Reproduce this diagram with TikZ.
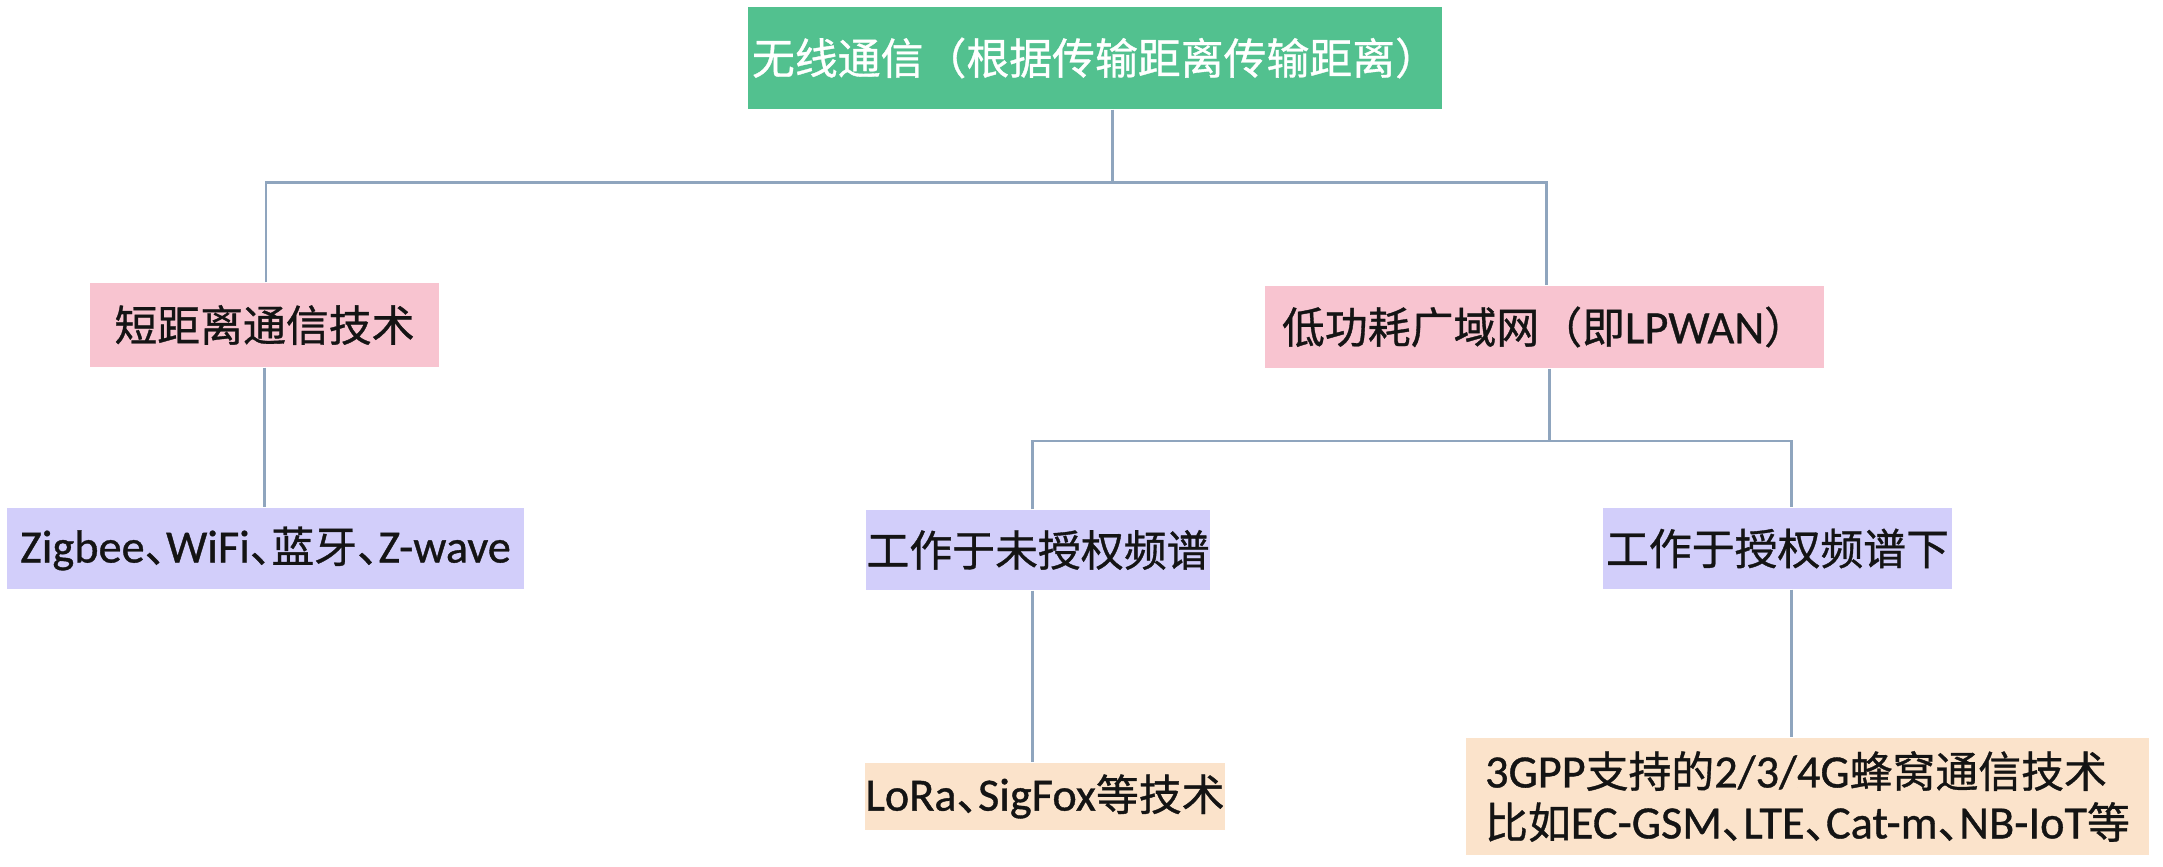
\documentclass[tikz,border=0pt]{standalone}
\usepackage{fontspec}
\setmainfont{Noto Sans CJK SC}[RawFeature={embolden=0.8}]
\newfontfamily\lat[Scale=1.08,RawFeature={embolden=0.8}]{Carlito}
\newfontfamily\halfp[RawFeature={+halt;embolden=0.8}]{Noto Sans CJK SC}
\newcommand\dun{{\halfp 、}}
\usepackage{tikz}
\usetikzlibrary{positioning}
\definecolor{rootfill}{HTML}{52C18F}
\definecolor{pinkfill}{HTML}{F8C4D0}
\definecolor{lilacfill}{HTML}{D2CEFA}
\definecolor{peachfill}{HTML}{FBE3CB}
\definecolor{linkcol}{HTML}{8FA5BE}
\definecolor{inkcol}{HTML}{141414}

\begin{document}
\begin{tikzpicture}[
  box/.style={inner sep=0pt, align=center, text=inkcol, font=\fontsize{12.2}{14.5}\selectfont},
  link/.style={draw=linkcol, line width=0.85pt}
]
  \useasboundingbox (0,0) rectangle (21.63,8.66);

  % root
  \node[box, fill=rootfill, text=white, minimum width=6.94cm, minimum height=1.02cm]
    (root) at (10.95,8.08) {无线通信（根据传输距离传输距离）};

  % second level
  \node[box, fill=pinkfill, minimum width=3.49cm, minimum height=0.84cm]
    (short) at (2.645,5.41) {短距离通信技术};
  \node[box, fill=pinkfill, minimum width=5.59cm, minimum height=0.82cm]
    (lpwan) at (15.445,5.39) {低功耗广域网（即{\lat LPWAN}）};

  % third level
  \node[box, fill=lilacfill, minimum width=5.17cm, minimum height=0.81cm]
    (zig) at (2.655,3.175) {{\lat Zigbee}\dun{\lat WiFi}\dun 蓝牙\dun{\lat Z-wave}};
  \node[box, fill=lilacfill, minimum width=3.44cm, minimum height=0.80cm]
    (unlic) at (10.38,3.16) {工作于未授权频谱};
  \node[box, fill=lilacfill, minimum width=3.49cm, minimum height=0.81cm]
    (lic) at (17.775,3.175) {工作于授权频谱下};

  % leaves
  \node[box, fill=peachfill, minimum width=3.60cm, minimum height=0.67cm]
    (lora) at (10.45,0.695) {{\lat LoRa}\dun{\lat SigFox}等技术};
  \node[box, fill=peachfill, align=left, minimum width=6.83cm, minimum height=1.17cm]
    (gpp) at (18.075,0.695) {{\lat 3GPP}支持的{\lat 2/3/4G}蜂窝通信技术\\
      比如{\lat EC-GSM}\dun{\lat LTE}\dun{\lat Cat-m}\dun{\lat NB-IoT}等};

  % branch points
  \coordinate (j1) at (11.12,6.83);
  \coordinate (b1l) at (2.66,6.83);
  \coordinate (b1r) at (15.46,6.83);
  \coordinate (j2) at (15.49,4.25);
  \coordinate (b2l) at (10.32,4.25);
  \coordinate (b2r) at (17.91,4.25);

  % connectors
  \draw[link] (root.south -| j1) -- (j1);
  \draw[link] (short.north -| b1l) -- (b1l) -- (b1r) -- (lpwan.north -| b1r);
  \draw[link] (short.south) -- (short.south |- zig.north);
  \draw[link] (lpwan.south -| j2) -- (j2);
  \draw[link] (unlic.north -| b2l) -- (b2l) -- (b2r) -- (lic.north -| b2r);
  \draw[link] (unlic.south -| b2l) -- (lora.north -| b2l);
  \draw[link] (lic.south -| b2r) -- (gpp.north -| b2r);
\end{tikzpicture}
\end{document}
